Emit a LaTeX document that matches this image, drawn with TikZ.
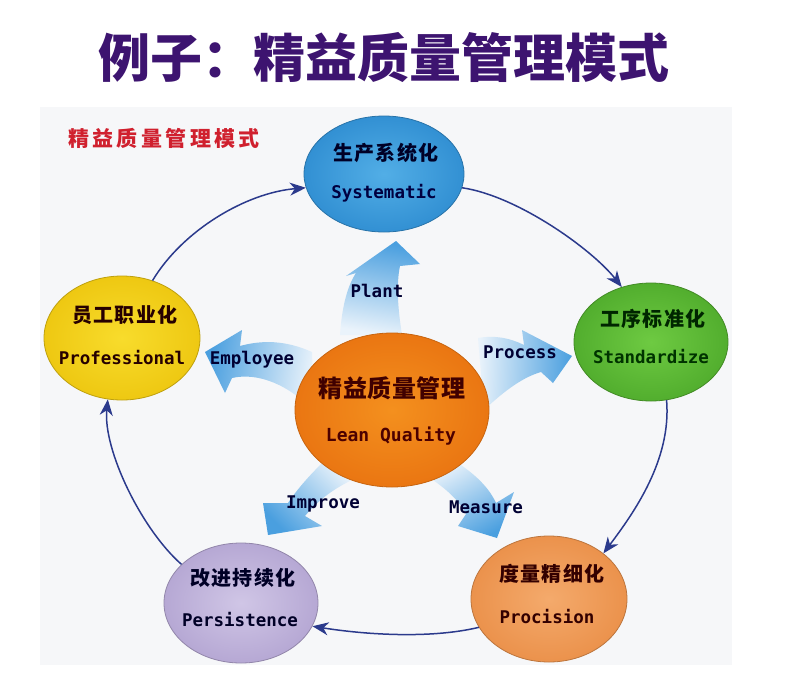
\documentclass[tikz,border=0pt]{standalone}
\usepackage{fontspec}
\newfontfamily\cjk{Noto Sans CJK SC}
\newfontfamily\cjkc[LetterSpace=7]{Noto Sans CJK SC}
\newfontfamily\cjkm[LetterSpace=2]{Noto Sans CJK SC}
\newfontfamily\cjkr[LetterSpace=16]{Noto Sans CJK SC}
\newfontfamily\mono{DejaVu Sans Mono}
\usetikzlibrary{shapes.geometric,arrows.meta}
\definecolor{titlec}{HTML}{3D1470}
\definecolor{redc}{HTML}{D0202E}
\definecolor{navy}{HTML}{2B3A8C}
\definecolor{panel}{HTML}{F6F7F9}
\definecolor{fatblue}{HTML}{4A9FDF}
\definecolor{fatlight}{HTML}{EAF3FB}
\definecolor{bluein}{HTML}{52AEE6}
\definecolor{blueout}{HTML}{3290D3}
\definecolor{greenin}{HTML}{6ECA42}
\definecolor{greenout}{HTML}{52AE2E}
\definecolor{yelin}{HTML}{F8DC2C}
\definecolor{yelout}{HTML}{EEC812}
\definecolor{orin}{HTML}{F4901E}
\definecolor{orout}{HTML}{EA7612}
\definecolor{lavin}{HTML}{D0C6E6}
\definecolor{lavout}{HTML}{B6A8D4}
\definecolor{salin}{HTML}{F4AA6C}
\definecolor{salout}{HTML}{EB924C}
\begin{document}
\begin{tikzpicture}[x=1pt,y=-1pt,
  circ/.style={ellipse,draw=#1,line width=0.8pt,inner sep=0pt},
  cntxt/.style={font=\cjkc\bfseries\fontsize{20}{20}\selectfont,text=#1},
  entxt/.style={font=\mono\bfseries\fontsize{17.5}{17.5}\selectfont,text=#1},
  arrlbl/.style={font=\mono\bfseries\fontsize{17.5}{17.5}\selectfont,text=black!80!blue},
  conn/.style={draw=navy,line width=1.5pt,-{Stealth[length=16pt,width=13pt,inset=5pt]}},
  fat/.style={top color=fatblue,bottom color=fatlight,shading angle=#1}
]
\useasboundingbox (0,0) rectangle (788,675);
\fill[white] (0,0) rectangle (788,675);
\fill[panel] (40,107) rectangle (732,665);

% title
\node[font=\cjk\bfseries\fontsize{52}{52}\selectfont,text=titlec] (title) at (384,58) {例子：精益质量管理模式};
\node[font=\cjkr\bfseries\fontsize{21}{21}\selectfont,text=redc] (sub) at (164,138) {精益质量管理模式};

% fat arrows
\shade[fat=-10] (340,335) .. controls (342,305) and (348,285) .. (356,273) -- (346,276) -- (396,241) -- (420,264) -- (400,266) .. controls (396,285) and (398,310) .. (402,335) -- cycle;
\shade[fat=80] (312,352) .. controls (285,340) and (262,340) .. (240,346) -- (242,330) -- (205,352) -- (225,393) -- (232,378) .. controls (258,372) and (290,385) .. (314,412) -- cycle;
\shade[fat=-92] (478,338) .. controls (495,335) and (510,338) .. (524,345) -- (522,330) -- (572,356) -- (553,383) -- (541,372) .. controls (520,378) and (500,395) .. (484,410) -- cycle;
\shade[fat=135] (330,455) .. controls (315,470) and (300,485) .. (288,503) -- (263,503) -- (268,535) -- (322,526) -- (305,516) .. controls (318,500) and (335,488) .. (352,480) -- cycle;
\shade[fat=-150] (430,478) .. controls (448,490) and (460,502) .. (466,514) -- (458,526) -- (497,538) -- (514,492) -- (496,503) .. controls (488,485) and (470,470) .. (450,458) -- cycle;

% ellipses
\node[circ=blueout!80!black,minimum width=160pt,minimum height=116pt,inner color=bluein,outer color=blueout] (blu) at (384,174) {};
\node[circ=greenout!80!black,minimum width=154pt,minimum height=118pt,inner color=greenin,outer color=greenout] (grn) at (651,342) {};
\node[circ=yelout!80!black,minimum width=156pt,minimum height=124pt,inner color=yelin,outer color=yelout] (yel) at (122,338) {};
\node[circ=orout!85!black,minimum width=194pt,minimum height=154pt,inner color=orin,outer color=orout] (ctr) at (392,410) {};
\node[circ=lavout!80!black,minimum width=154pt,minimum height=120pt,inner color=lavin,outer color=lavout] (per) at (241,603) {};
\node[circ=salout!80!black,minimum width=156pt,minimum height=126pt,inner color=salin,outer color=salout] (prc) at (549,599) {};

% ellipse texts
\node[cntxt=black!85!blue] (bluc) at (386,153) {生产系统化};
\node[entxt=black!75!blue] (blue) at (384,193) {Systematic};
\node[cntxt=black!85!green] (grnc) at (653,319) {工序标准化};
\node[entxt=black!80!green] (grne) at (651,357) {Standardize};
\node[cntxt=black!85!red] (yelc) at (125,315) {员工职业化};
\node[entxt=black!85!red] (yele) at (122,358) {Professional};
\node[font=\cjkm\bfseries\fontsize{24}{24}\selectfont,text=black!75!red] (ctrc) at (392,388) {精益质量管理};
\node[font=\mono\bfseries\fontsize{18}{18}\selectfont,text=black!70!red] (ctre) at (391,436) {Lean Quality};
\node[cntxt=black!85!blue] (perc) at (243,578) {改进持续化};
\node[entxt=black!85!blue] (pere) at (240,620) {Persistence};
\node[cntxt=black!80!red] (prcc) at (552,574) {度量精细化};
\node[entxt=black!80!red] (prce) at (547,617) {Procision};

% fat arrow labels
\node[arrlbl] (lplant) at (377,291) {Plant};
\node[arrlbl] (lemp) at (252,360) {Employee};
\node[arrlbl] (lproc) at (520,352) {Process};
\node[arrlbl] (limp) at (323,504) {Improve};
\node[arrlbl] (lmeas) at (486,507) {Measure};

% cycle connectors
\draw[conn] (yel.62) .. controls +(30,-50) and +(-60,5) .. (blu.190);
\draw[conn] (blu.350) .. controls +(55,8) and +(-30,-38) .. (grn.118);
\draw[conn] (grn.-75) .. controls +(5,60) and +(30,-40) .. (prc.40);
\draw[conn] (prc.202) .. controls +(-50,12) and +(50,8) .. (per.-18);
\draw[conn] (per.147) .. controls +(-40,-35) and +(-5,50) .. (yel.257);
\end{tikzpicture}
\end{document}
